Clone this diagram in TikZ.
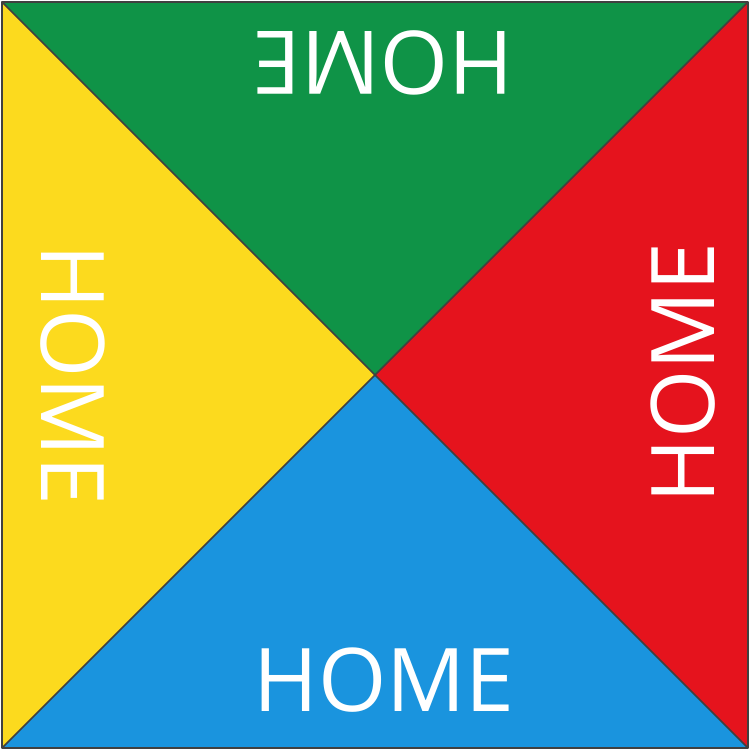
\documentclass[tikz,border=0pt]{standalone}
\usepackage{fontspec}
\setmainfont{Open Sans}
\usepackage{xcolor}
\usetikzlibrary{calc}
\definecolor{homegreen}{HTML}{0F9347}
\definecolor{homered}{HTML}{E5131D}
\definecolor{homeblue}{HTML}{1A94DE}
\definecolor{homeyellow}{HTML}{FCDA1E}

\begin{document}
\begin{tikzpicture}[
  x={(0.02cm,0cm)},y={(0cm,-0.02cm)},
  edge/.style={draw=black!75,line width=0.9pt,line join=round},
  label/.style={text=white,inner sep=0pt,font=\fontsize{50}{50}\selectfont}
]
  \useasboundingbox (0,0) rectangle (750,750);
  \coordinate (NW) at (2,2);
  \coordinate (NE) at (748,2);
  \coordinate (SE) at (748,748);
  \coordinate (SW) at (2,748);
  \coordinate (C) at (375,375);
  \fill[homegreen] (NW) -- (NE) -- (C) -- cycle;
  \fill[homered] (NE) -- (SE) -- (C) -- cycle;
  \fill[homeblue] (SE) -- (SW) -- (C) -- cycle;
  \fill[homeyellow] (SW) -- (NW) -- (C) -- cycle;
  \draw[edge] (NW) -- (SE);
  \draw[edge] (NE) -- (SW);
  \draw[edge,line width=1.6pt] (NW) rectangle (SE);
  \node[label] (hblue) at (384,680) {HOME};
  \node[label,rotate=180] (hgreen) at (383,63) {HOME};
  \node[label,rotate=90] (hred) at (683,373) {HOME};
  \node[label,rotate=-90] (hyellow) at (73,375) {HOME};
\end{tikzpicture}
\end{document}
